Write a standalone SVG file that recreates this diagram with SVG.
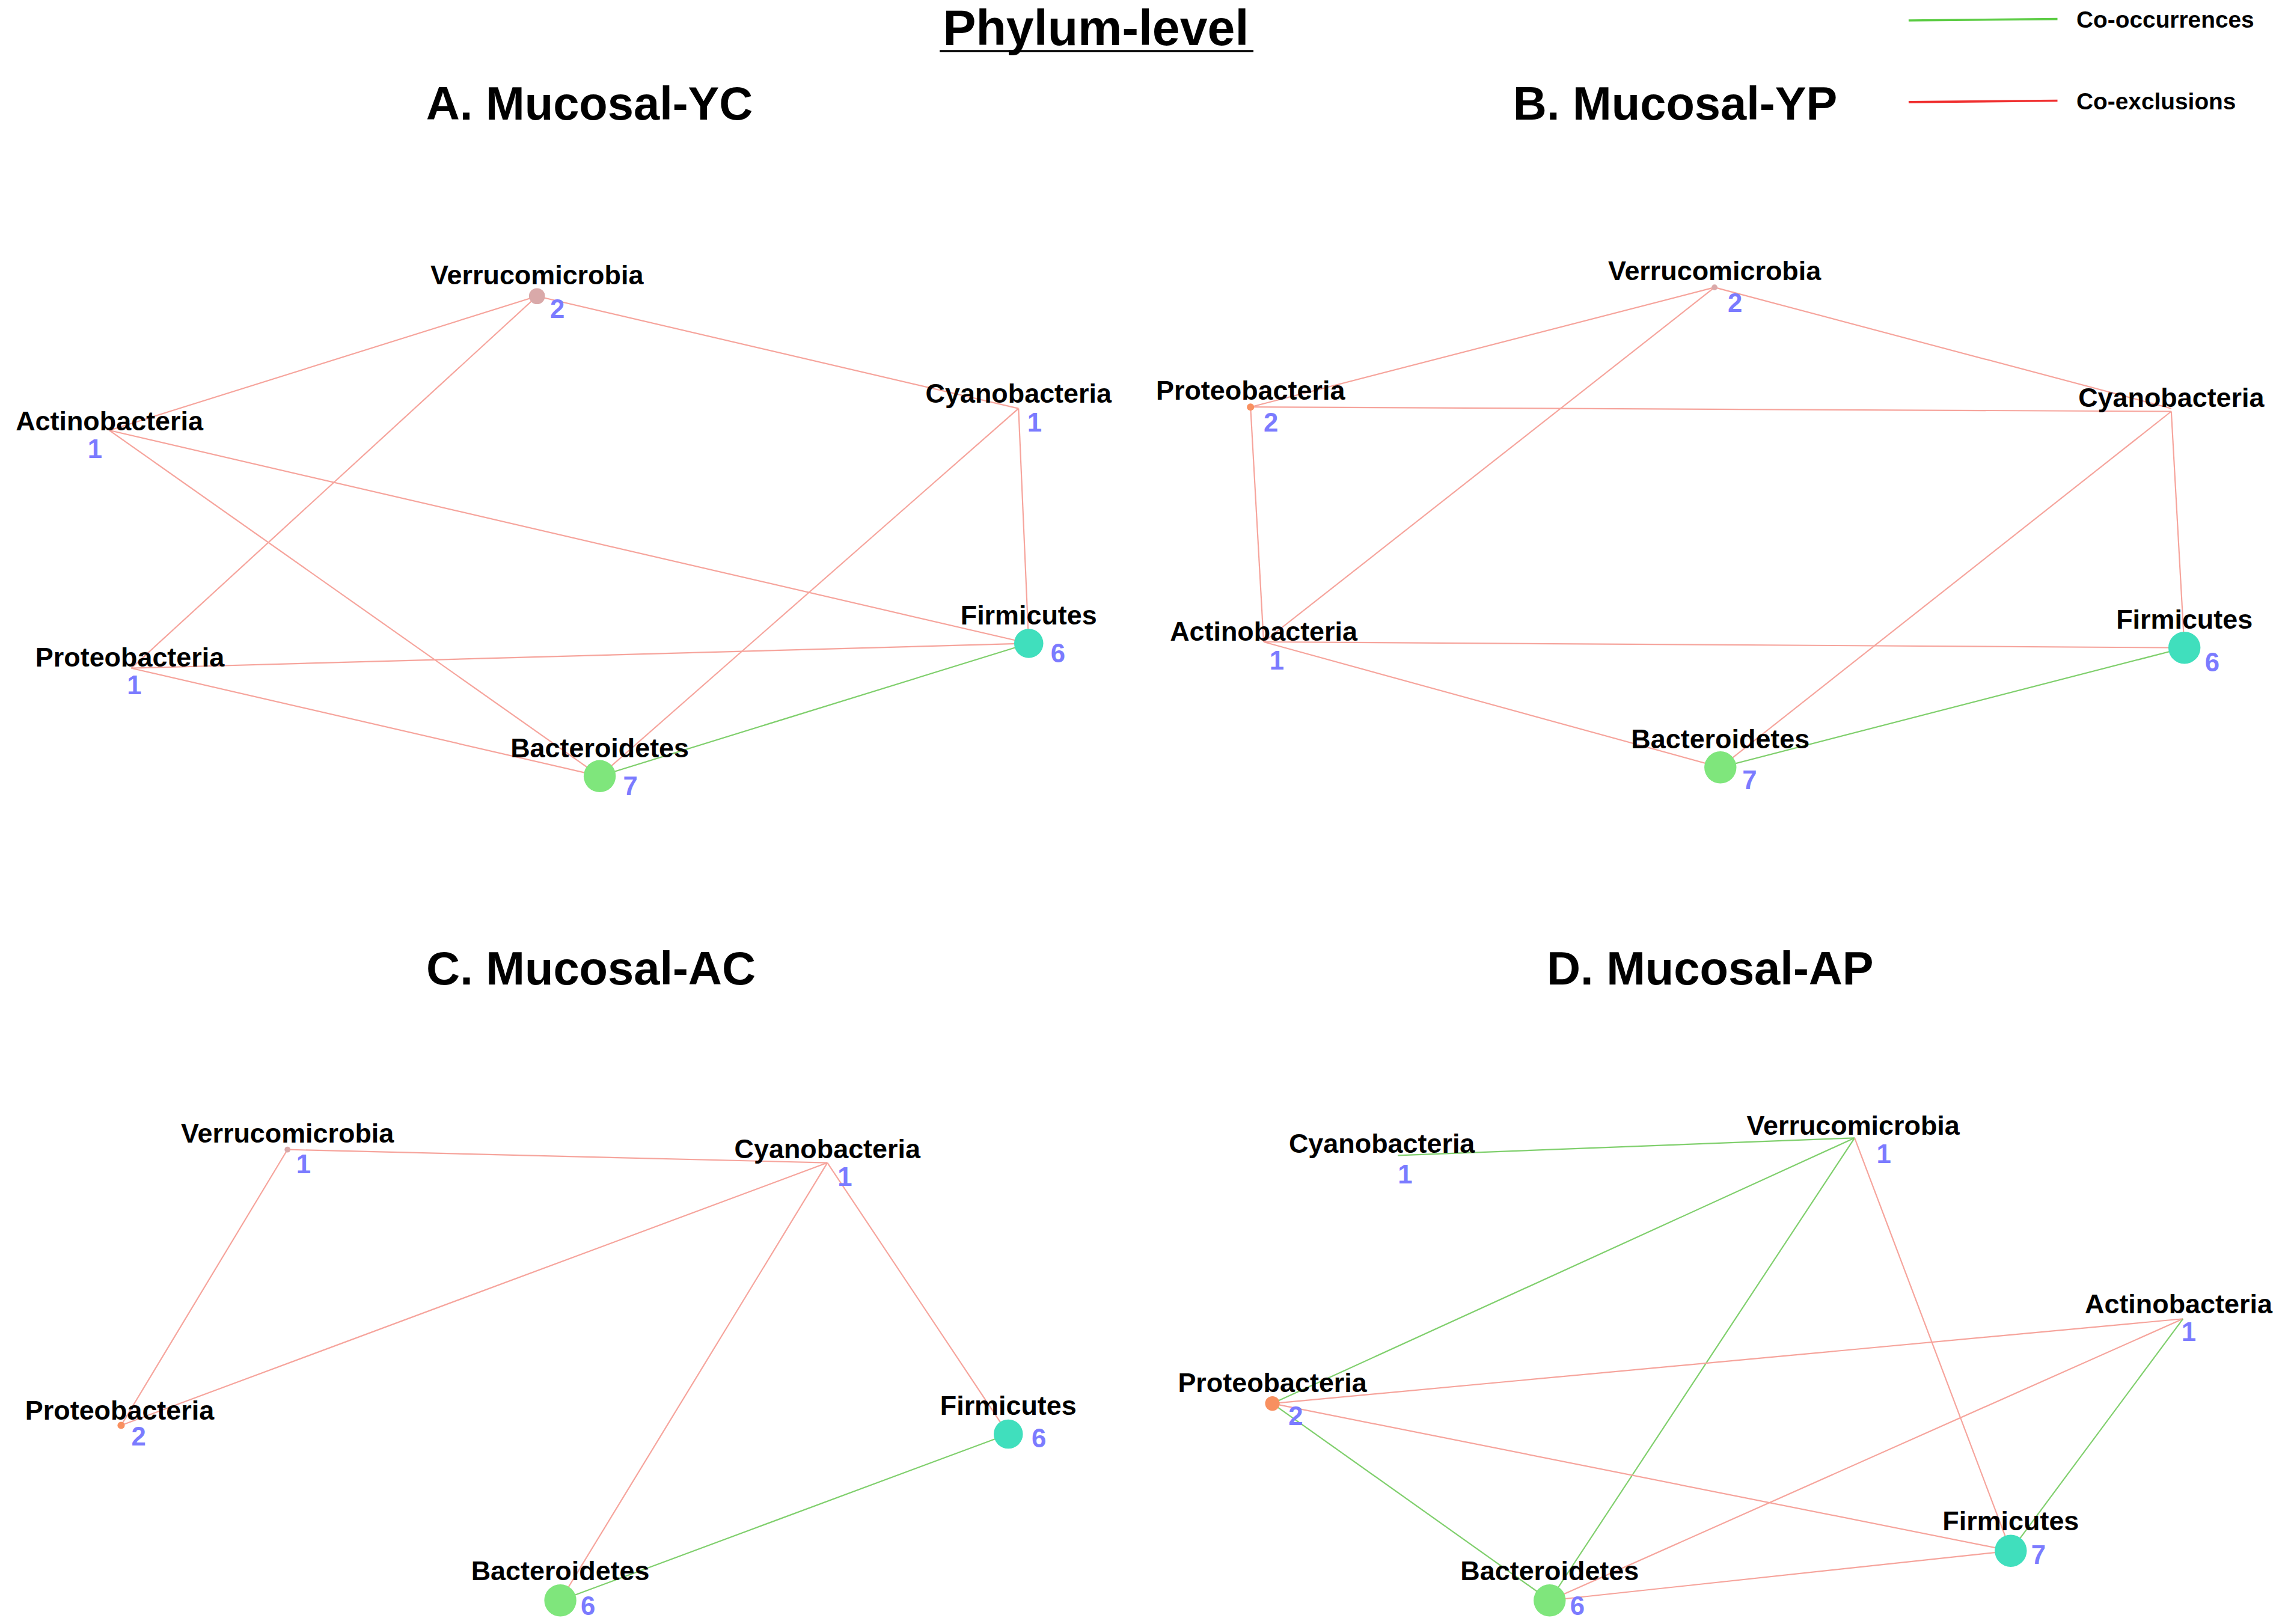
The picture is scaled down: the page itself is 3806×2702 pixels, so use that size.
<svg xmlns="http://www.w3.org/2000/svg" width="3806" height="2702" viewBox="0 0 3806 2702">
<style>
text{font-family:"Liberation Sans",Arial,sans-serif;font-weight:bold}
.t{font-size:18.5px;fill:#000;text-anchor:middle}
.n{font-size:18px;fill:#7b7bff}
.h{font-size:32px;text-anchor:middle}
.r{stroke:#f6a49c;stroke-width:0.9;fill:none}
.g{stroke:#7fcf6c;stroke-width:0.9;fill:none}
.lg{font-size:16px}
</style>
<rect width="3806" height="2702" fill="#fff"/>
<g transform="scale(2.4273)">
<g id="titles">
<text x="751" y="31" class="h" style="font-size:34px">Phylum-level</text>
<line x1="644" y1="35" x2="859" y2="35" stroke="#000" stroke-width="1.5"/>
<text x="404" y="82" class="h">A. Mucosal-YC</text>
<text x="1148" y="82" class="h">B. Mucosal-YP</text>
<text x="405" y="675" class="h">C. Mucosal-AC</text>
<text x="1172" y="675" class="h">D. Mucosal-AP</text>
</g>
<g id="legend">
<line x1="1308" y1="14" x2="1410" y2="13" stroke="#5ccc44" stroke-width="1.5"/>
<text x="1423" y="19" class="lg">Co-occurrences</text>
<line x1="1308" y1="70" x2="1410" y2="69" stroke="#f03030" stroke-width="1.5"/>
<text x="1423" y="75" class="lg">Co-exclusions</text>
</g>
<g id="connectors">
<line class="r" x1="368" y1="203" x2="75" y2="295"/>
<line class="r" x1="368" y1="203" x2="698" y2="280"/>
<line class="r" x1="368" y1="203" x2="90" y2="458"/>
<line class="r" x1="75" y1="295" x2="705" y2="441"/>
<line class="r" x1="75" y1="295" x2="411" y2="532"/>
<line class="r" x1="698" y1="280" x2="705" y2="441"/>
<line class="r" x1="698" y1="280" x2="411" y2="532"/>
<line class="r" x1="90" y1="458" x2="705" y2="441"/>
<line class="r" x1="90" y1="458" x2="411" y2="532"/>
<line class="g" x1="411" y1="532" x2="705" y2="441"/>
<line class="r" x1="1175" y1="197" x2="857" y2="279"/>
<line class="r" x1="1175" y1="197" x2="1488" y2="280"/>
<line class="r" x1="1175" y1="197" x2="866" y2="440"/>
<line class="r" x1="857" y1="279" x2="1488" y2="282"/>
<line class="r" x1="857" y1="279" x2="866" y2="440"/>
<line class="r" x1="1488" y1="282" x2="1497" y2="444"/>
<line class="r" x1="1488" y1="282" x2="1179" y2="526"/>
<line class="r" x1="866" y1="440" x2="1497" y2="444"/>
<line class="r" x1="866" y1="440" x2="1179" y2="526"/>
<line class="g" x1="1179" y1="526" x2="1497" y2="444"/>
<line class="r" x1="197" y1="788" x2="567" y2="797"/>
<line class="r" x1="197" y1="788" x2="83" y2="977"/>
<line class="r" x1="567" y1="797" x2="83" y2="977"/>
<line class="r" x1="567" y1="797" x2="384" y2="1097"/>
<line class="r" x1="567" y1="797" x2="691" y2="983"/>
<line class="g" x1="384" y1="1097" x2="691" y2="983"/>
<line class="g" x1="958" y1="792" x2="1271" y2="780"/>
<line class="g" x1="1271" y1="780" x2="872" y2="962"/>
<line class="g" x1="1271" y1="780" x2="1062" y2="1097"/>
<line class="r" x1="1271" y1="780" x2="1378" y2="1063"/>
<line class="r" x1="1496" y1="904" x2="872" y2="962"/>
<line class="r" x1="1496" y1="904" x2="1062" y2="1097"/>
<line class="g" x1="1496" y1="904" x2="1378" y2="1063"/>
<line class="g" x1="872" y1="962" x2="1062" y2="1097"/>
<line class="r" x1="872" y1="962" x2="1378" y2="1063"/>
<line class="r" x1="1062" y1="1097" x2="1378" y2="1063"/>
</g>
<g id="A-Verrucomicrobia"><circle cx="368" cy="203" r="5.5" fill="#d9a9a9"/><text class="t" x="368" y="195">Verrucomicrobia</text><text class="n" x="377" y="218">2</text></g>
<g id="A-Actinobacteria"><text class="t" x="75" y="295">Actinobacteria</text><text class="n" x="60" y="314">1</text></g>
<g id="A-Cyanobacteria"><text class="t" x="698" y="276">Cyanobacteria</text><text class="n" x="704" y="296">1</text></g>
<g id="A-Firmicutes"><circle cx="705" cy="441" r="10" fill="#40dfbd"/><text class="t" x="705" y="428">Firmicutes</text><text class="n" x="720" y="454">6</text></g>
<g id="A-Proteobacteria"><text class="t" x="89" y="457">Proteobacteria</text><text class="n" x="87" y="476">1</text></g>
<g id="A-Bacteroidetes"><circle cx="411" cy="532" r="11" fill="#7fe67c"/><text class="t" x="411" y="519">Bacteroidetes</text><text class="n" x="427" y="545">7</text></g>
<g id="B-Verrucomicrobia"><circle cx="1175" cy="197" r="2" fill="#d9a9a9"/><text class="t" x="1175" y="192">Verrucomicrobia</text><text class="n" x="1184" y="214">2</text></g>
<g id="B-Proteobacteria"><circle cx="857" cy="279" r="2.5" fill="#f89060"/><text class="t" x="857" y="274">Proteobacteria</text><text class="n" x="866" y="296">2</text></g>
<g id="B-Cyanobacteria"><text class="t" x="1488" y="279">Cyanobacteria</text></g>
<g id="B-Actinobacteria"><text class="t" x="866" y="439">Actinobacteria</text><text class="n" x="870" y="459">1</text></g>
<g id="B-Firmicutes"><circle cx="1497" cy="444" r="11" fill="#40dfbd"/><text class="t" x="1497" y="431">Firmicutes</text><text class="n" x="1511" y="460">6</text></g>
<g id="B-Bacteroidetes"><circle cx="1179" cy="526" r="11" fill="#7fe67c"/><text class="t" x="1179" y="513">Bacteroidetes</text><text class="n" x="1194" y="541">7</text></g>
<g id="C-Verrucomicrobia"><circle cx="197" cy="788" r="2" fill="#d9a9a9"/><text class="t" x="197" y="783">Verrucomicrobia</text><text class="n" x="203" y="804">1</text></g>
<g id="C-Cyanobacteria"><text class="t" x="567" y="794">Cyanobacteria</text><text class="n" x="574" y="813">1</text></g>
<g id="C-Proteobacteria"><circle cx="83" cy="977" r="2.5" fill="#f89060"/><text class="t" x="82" y="973">Proteobacteria</text><text class="n" x="90" y="991">2</text></g>
<g id="C-Firmicutes"><circle cx="691" cy="983" r="10" fill="#40dfbd"/><text class="t" x="691" y="970">Firmicutes</text><text class="n" x="707" y="992">6</text></g>
<g id="C-Bacteroidetes"><circle cx="384" cy="1097" r="11" fill="#7fe67c"/><text class="t" x="384" y="1083">Bacteroidetes</text><text class="n" x="398" y="1107">6</text></g>
<g id="D-Cyanobacteria"><text class="t" x="947" y="790">Cyanobacteria</text><text class="n" x="958" y="811">1</text></g>
<g id="D-Verrucomicrobia"><text class="t" x="1270" y="778">Verrucomicrobia</text><text class="n" x="1286" y="797">1</text></g>
<g id="D-Actinobacteria"><text class="t" x="1493" y="900">Actinobacteria</text><text class="n" x="1495" y="919">1</text></g>
<g id="D-Proteobacteria"><circle cx="872" cy="962" r="5" fill="#f89060"/><text class="t" x="872" y="954">Proteobacteria</text><text class="n" x="883" y="977">2</text></g>
<g id="D-Firmicutes"><circle cx="1378" cy="1063" r="11" fill="#40dfbd"/><text class="t" x="1378" y="1049">Firmicutes</text><text class="n" x="1392" y="1072">7</text></g>
<g id="D-Bacteroidetes"><circle cx="1062" cy="1097" r="11" fill="#7fe67c"/><text class="t" x="1062" y="1083">Bacteroidetes</text><text class="n" x="1076" y="1107">6</text></g>
</g>
</svg>
